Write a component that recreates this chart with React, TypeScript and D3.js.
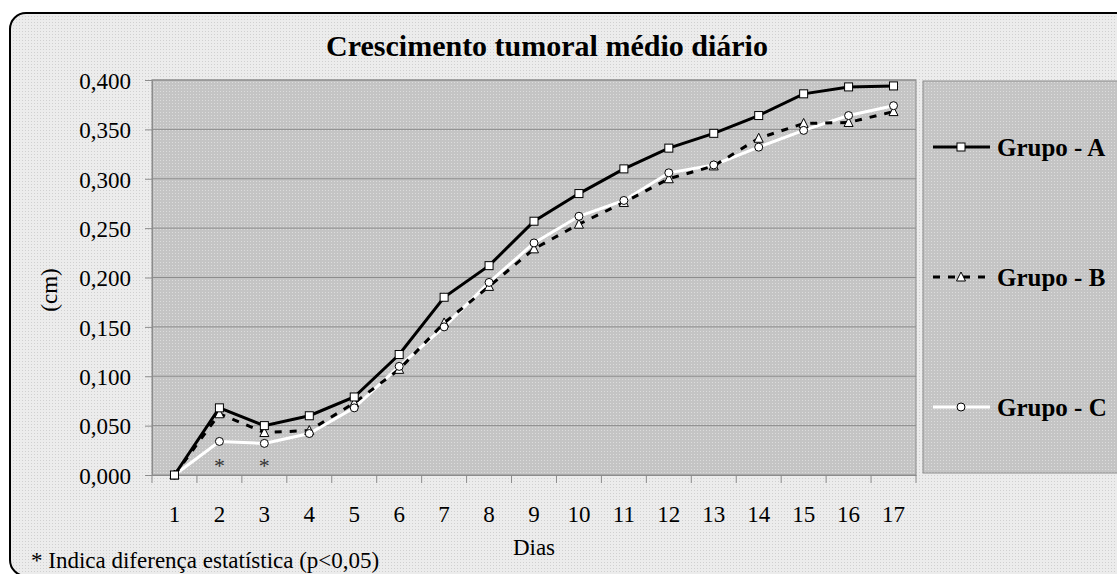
import React, { useEffect, useRef } from 'react';
import * as d3 from 'd3';

const dias = ['1', '2', '3', '4', '5', '6', '7', '8', '9', '10', '11', '12', '13', '14', '15', '16', '17'];
const grupoA = [0, 0.068, 0.050, 0.060, 0.079, 0.122, 0.180, 0.212, 0.257, 0.285, 0.310, 0.331, 0.346, 0.364, 0.386, 0.393, 0.394];
const grupoB = [0, 0.062, 0.043, 0.045, 0.073, 0.107, 0.154, 0.191, 0.229, 0.254, 0.276, 0.300, 0.313, 0.341, 0.356, 0.357, 0.368];
const grupoC = [0, 0.034, 0.032, 0.042, 0.068, 0.110, 0.150, 0.195, 0.235, 0.262, 0.278, 0.306, 0.314, 0.332, 0.349, 0.364, 0.374];
const yTicks = [0, 0.05, 0.1, 0.15, 0.2, 0.25, 0.3, 0.35, 0.4];
const diasSignificativos = ['2', '3'];

const series = [
  { name: 'Grupo - A', values: grupoA, color: '#000', dash: null, marker: 'square' },
  { name: 'Grupo - B', values: grupoB, color: '#000', dash: '7,8', marker: 'triangle' },
  { name: 'Grupo - C', values: grupoC, color: '#fff', dash: null, marker: 'circle' },
];

const W = 1117;
const H = 574;
const FONT = '"Liberation Serif", "Times New Roman", serif';

const App = () => {
  const ref = useRef(null);

  useEffect(() => {
    const svg = d3.select(ref.current);
    svg.selectAll('*').remove();

    const plot = { left: 152, right: 916, top: 80, bottom: 475 };

    // dotted fills like the office pattern
    const defs = svg.append('defs');
    const pat = (id, bg, dot) => {
      const p = defs.append('pattern').attr('id', id).attr('width', 3).attr('height', 3)
        .attr('patternUnits', 'userSpaceOnUse');
      p.append('rect').attr('width', 3).attr('height', 3).attr('fill', bg);
      p.append('rect').attr('x', 1).attr('y', 1).attr('width', 1).attr('height', 1).attr('fill', dot);
    };
    pat('outerPat', '#ececec', '#d0d0d0');
    pat('plotPat', '#c4c4c4', '#dcdcdc');

    svg.append('rect').attr('width', W).attr('height', H).attr('fill', '#fff');
    svg.append('rect')
      .attr('x', 10).attr('y', 13).attr('width', 1125).attr('height', 563)
      .attr('rx', 16).attr('ry', 16)
      .attr('fill', 'url(#outerPat)').attr('stroke', '#000').attr('stroke-width', 2);

    const x = d3.scaleBand().domain(dias).range([plot.left, plot.right]);
    const y = d3.scaleLinear().domain([0, 0.4]).range([plot.bottom, plot.top]);

    // plot area
    svg.append('rect')
      .attr('x', plot.left).attr('y', plot.top)
      .attr('width', plot.right - plot.left).attr('height', plot.bottom - plot.top)
      .attr('fill', 'url(#plotPat)').attr('stroke', '#8c8c8c').attr('stroke-width', 1);

    // gridlines
    svg.append('g').selectAll('line').data(yTicks.slice(1)).enter().append('line')
      .attr('x1', plot.left).attr('x2', plot.right)
      .attr('y1', d => y(d)).attr('y2', d => y(d))
      .attr('stroke', '#8c8c8c').attr('stroke-width', 1);

    // y axis
    const fmt = d3.format('.3f');
    const yAxis = svg.append('g')
      .attr('transform', `translate(${plot.left},0)`)
      .call(d3.axisLeft(y).tickValues(yTicks).tickSize(7).tickPadding(14)
        .tickFormat(d => fmt(d).replace('.', ',')));
    yAxis.select('.domain').attr('stroke', '#8c8c8c');
    yAxis.selectAll('.tick line').attr('stroke', '#8c8c8c');
    yAxis.selectAll('text').attr('font-family', FONT).attr('font-size', 23).attr('fill', '#000')
      .attr('dy', '0.36em');

    // x axis
    const xAxis = svg.append('g')
      .attr('transform', `translate(0,${plot.bottom})`)
      .call(d3.axisBottom(x).tickSize(0));
    xAxis.select('.domain').attr('stroke', '#8c8c8c');
    xAxis.selectAll('text').attr('font-family', FONT).attr('font-size', 23).attr('fill', '#000')
      .attr('y', 47).attr('dy', 0);
    xAxis.selectAll('.bound').data(d3.range(dias.length + 1)).enter().append('line')
      .attr('x1', i => plot.left + x.step() * i).attr('x2', i => plot.left + x.step() * i)
      .attr('y1', 0).attr('y2', 8)
      .attr('stroke', '#8c8c8c').attr('stroke-width', 1);

    // asterisks
    svg.append('g').selectAll('text').data(diasSignificativos).enter().append('text')
      .attr('x', d => x(d) + x.bandwidth() / 2).attr('y', 473)
      .attr('text-anchor', 'middle').attr('font-family', FONT).attr('font-size', 22)
      .attr('fill', '#333').text('*');

    const line = d3.line().x((d, i) => x(dias[i]) + x.bandwidth() / 2).y(d => y(d));

    const drawMarker = (g, type, cx, cy) => {
      if (type === 'square') {
        g.append('rect').attr('x', cx - 4).attr('y', cy - 4).attr('width', 8).attr('height', 8)
          .attr('fill', '#fff').attr('stroke', '#000').attr('stroke-width', 1);
      } else if (type === 'circle') {
        g.append('circle').attr('cx', cx).attr('cy', cy).attr('r', 4)
          .attr('fill', '#fff').attr('stroke', '#000').attr('stroke-width', 1);
      } else {
        g.append('path').attr('d', `M${cx},${cy - 5}L${cx + 4.5},${cy + 4}L${cx - 4.5},${cy + 4}Z`)
          .attr('fill', '#fff').attr('stroke', '#000').attr('stroke-width', 1);
      }
    };

    // lines: C under B under A
    const order = [2, 1, 0];
    order.forEach(k => {
      const s = series[k];
      svg.append('path').datum(s.values).attr('d', line)
        .attr('fill', 'none').attr('stroke', s.color).attr('stroke-width', 3)
        .attr('stroke-dasharray', s.dash);
    });
    [1, 2, 0].forEach(k => {
      const s = series[k];
      const g = svg.append('g');
      s.values.forEach((v, i) => drawMarker(g, s.marker, x(dias[i]) + x.bandwidth() / 2, y(v)));
    });

    // legend
    const leg = svg.append('g');
    leg.append('rect').attr('x', 923).attr('y', 81).attr('width', 198).attr('height', 392)
      .attr('fill', 'url(#plotPat)').attr('stroke', '#8c8c8c').attr('stroke-width', 1);
    const legY = [147, 277, 407];
    series.forEach((s, k) => {
      const ly = legY[k];
      leg.append('line').attr('x1', 933).attr('x2', 990).attr('y1', ly).attr('y2', ly)
        .attr('stroke', s.color).attr('stroke-width', 3).attr('stroke-dasharray', s.dash);
      drawMarker(leg, s.marker, 961, ly);
      leg.append('text').attr('x', 997).attr('y', ly + 9)
        .attr('font-family', FONT).attr('font-size', 25).attr('font-weight', 'bold')
        .text(s.name);
    });

    // title and axis labels
    svg.append('text').attr('x', 547).attr('y', 56).attr('text-anchor', 'middle')
      .attr('font-family', FONT).attr('font-size', 30).attr('font-weight', 'bold')
      .text('Crescimento tumoral médio diário');
    svg.append('text').attr('x', (plot.left + plot.right) / 2).attr('y', 555)
      .attr('text-anchor', 'middle').attr('font-family', FONT).attr('font-size', 23)
      .text('Dias');
    svg.append('text').attr('transform', 'translate(57,290) rotate(-90)')
      .attr('text-anchor', 'middle').attr('font-family', FONT).attr('font-size', 23)
      .text('(cm)');
    svg.append('text').attr('x', 31).attr('y', 568)
      .attr('font-family', FONT).attr('font-size', 23)
      .text('* Indica diferença estatística (p<0,05)');
  }, []);

  return <svg ref={ref} width={W} height={H} style={{ position: 'absolute', left: 0, top: 0 }} />;
};

export default App;
